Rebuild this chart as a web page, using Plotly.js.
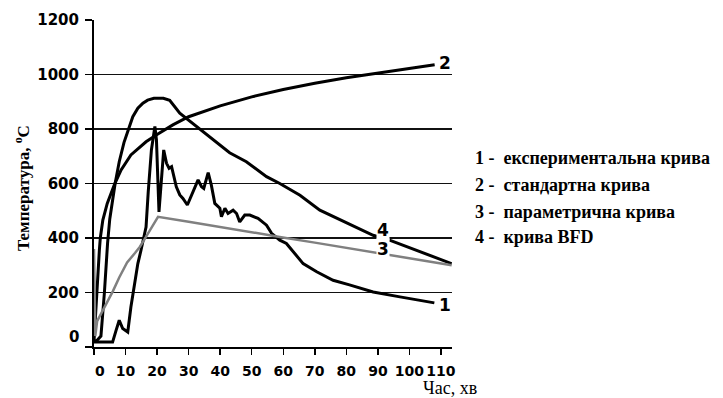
<!DOCTYPE html>
<html>
<head>
<meta charset="utf-8">
<script src="https://cdn.plot.ly/plotly-3.0.1.min.js"></script>
<style>html,body{margin:0;padding:0;background:#fff;}#chart{width:723px;height:398px;}</style>
</head>
<body>
<div id="chart"></div>
<script>
// 1 - experimental curve
const t1 = [0, 1.2, 5.9, 7, 8, 9.1, 10.7, 11.7, 12.8, 13.9, 14.9, 16.5, 17.2, 18.2, 19.3, 19.8, 20.6, 21.3, 22.1, 23, 23.8, 24.6, 25.1, 26.1, 27.2, 28.2, 29.6, 31.4, 33, 34.1, 34.8, 36.2, 37.2, 38.3, 39.9, 40.4, 41.5, 42.5, 44.1, 45.2, 46.2, 47.8, 49.4, 52, 54.7, 56.3, 58.9, 61, 63.1, 66.3, 70.6, 75.8, 81, 88.5, 97, 107.9];
const v1 = [18, 18, 18, 61, 98, 68, 55, 147, 220, 306, 355, 440, 570, 723, 809, 760, 496, 610, 723, 674, 656, 662, 637, 588, 558, 545, 521, 570, 613, 588, 582, 640, 594, 527, 509, 478, 509, 490, 502, 490, 459, 484, 484, 472, 447, 417, 392, 380, 349, 306, 276, 245, 228, 202, 184, 162];
// 2 - standard curve
const t2 = [0, 0.5, 1, 1.7, 2, 2.8, 4.2, 6.5, 8.6, 11.7, 16.5, 20, 25, 30, 40, 50, 60, 70, 80, 90, 100, 108];
const v2 = [20, 130, 250, 355, 400, 466, 527, 597, 650, 705, 753, 780, 815, 845, 885, 918, 945, 968, 988, 1006, 1022, 1036];
// 3 - parametric curve
const t3 = [0, 0.4, 1, 4, 6, 8, 10.5, 13, 14.5, 16, 18, 20.3, 30, 40, 50, 58.9, 70, 80, 88.5, 100, 113.4];
const v3 = [360, 40, 95, 160, 205, 255, 310, 345, 367, 395, 435, 478, 460, 440, 421, 404, 383, 364, 347, 325, 300];
// 4 - BFD curve
const t4 = [0, 1, 2.2, 3.3, 4.3, 5, 6.7, 8, 9.5, 10.9, 12.3, 13.9, 15.5, 17, 19, 22, 24, 27.2, 32.5, 37.8, 43, 48.3, 54.7, 58.9, 65.3, 71.6, 80, 88.5, 93.7, 100, 106, 113.4];
const v4 = [20, 25, 40, 200, 380, 470, 600, 680, 750, 800, 845, 876, 895, 906, 913, 913, 905, 858, 809, 760, 713, 680, 625, 600, 557, 502, 456, 410, 392, 364, 338, 306];

const xTicks = [0, 10, 20, 30, 40, 50, 60, 70, 80, 90, 100, 110];
const xTickText = ["", "10", "20", "30", "40", "50", "60", "70", "80", "90", "100", "110"];
const yTicks = [0, 200, 400, 600, 800, 1000, 1200];
const yTickText = ["", "200", "400", "600", "800", "1000", "1200"];

const legendLines = [
  "1 -&nbsp; експериментальна крива",
  "2 -&nbsp; стандартна крива",
  "3 -&nbsp; параметрична крива",
  "4 -&nbsp; крива BFD"
];
const curveLabels = ["1", "2", "3", "4"];
const curveLabelX = [111.3, 111.3, 91.5, 91.5];
const curveLabelY = [153, 1042, 361, 431];

const blackLine = {color: '#000', width: 3};
const traces = [
  {x: t1, y: v1, mode: 'lines', line: blackLine, name: '1'},
  {x: t2, y: v2, mode: 'lines', line: blackLine, name: '2'},
  {x: t4, y: v4, mode: 'lines', line: blackLine, name: '4'},
  {x: t3, y: v3, mode: 'lines', line: {color: '#808080', width: 2.5}, name: '3'}
];

const serif = 'Liberation Serif, Times New Roman, serif';
const sans = 'DejaVu Sans, Verdana, sans-serif';

const annotations = [];
legendLines.forEach((txt, i) => {
  annotations.push({
    xref: 'paper', yref: 'paper', x: 1.0578, y: [0.5767, 0.4950, 0.4132, 0.3349][i],
    xanchor: 'left', yanchor: 'middle', showarrow: false, text: txt,
    font: {family: serif, size: 18, color: '#000', weight: 'bold'}
  });
});
curveLabels.forEach((txt, i) => {
  annotations.push({
    xref: 'x', yref: 'y', x: curveLabelX[i], y: curveLabelY[i],
    xanchor: 'center', yanchor: 'middle', showarrow: false, text: txt,
    bgcolor: '#fff', borderpad: 0,
    font: {family: sans, size: 17, color: '#000', weight: 'bold'}
  });
});
// zero labels (offset as in the original)
annotations.push({xref: 'paper', yref: 'y', x: -0.036, y: 0, yshift: 10, xanchor: 'right', yanchor: 'middle',
  showarrow: false, text: '0', font: {family: sans, size: 15, color: '#000', weight: 'bold'}});
annotations.push({xref: 'x', yref: 'paper', x: 0, xshift: 6, y: 0, yshift: -14, xanchor: 'center', yanchor: 'top',
  showarrow: false, text: '0', font: {family: sans, size: 14, color: '#000', weight: 'bold'}});
// axis titles
annotations.push({xref: 'paper', yref: 'paper', x: -0.201, y: 0.486, xanchor: 'center', yanchor: 'middle',
  textangle: -90, showarrow: false, text: 'Температура, <sup>o</sup>C', font: {family: serif, size: 17, color: '#000', weight: 'bold'}});
annotations.push({xref: 'paper', yref: 'paper', x: 0.9148, y: -0.126, xanchor: 'left', yanchor: 'middle',
  showarrow: false, text: 'Час, хв', font: {family: serif, size: 18, color: '#000'}});

const layout = {
  width: 723, height: 398,
  margin: {l: 94, r: 271, t: 20, b: 51, pad: 0},
  paper_bgcolor: '#fff', plot_bgcolor: '#fff',
  showlegend: false,
  xaxis: {
    range: [0, 113.5], tickvals: xTicks, ticktext: xTickText,
    showgrid: false, zeroline: false, showline: true, linecolor: '#000', linewidth: 2,
    ticks: 'outside', ticklen: 6, tickwidth: 1.5, tickcolor: '#000',
    tickfont: {family: sans, size: 14, color: '#000', weight: 'bold'},
    ticklabelstandoff: 4, layer: 'below traces', fixedrange: true
  },
  yaxis: {
    range: [0, 1200], tickvals: yTicks, ticktext: yTickText,
    showgrid: true, gridcolor: '#111', gridwidth: 1.5, zeroline: false,
    showline: true, linecolor: '#000', linewidth: 2,
    ticks: 'outside', ticklen: 7, tickwidth: 1.5, tickcolor: '#000',
    tickfont: {family: sans, size: 15, color: '#000', weight: 'bold'},
    ticklabelstandoff: 3, layer: 'below traces', fixedrange: true
  },
  annotations: annotations
};

Plotly.newPlot('chart', traces, layout, {staticPlot: true, displayModeBar: false});
</script>
</body>
</html>
